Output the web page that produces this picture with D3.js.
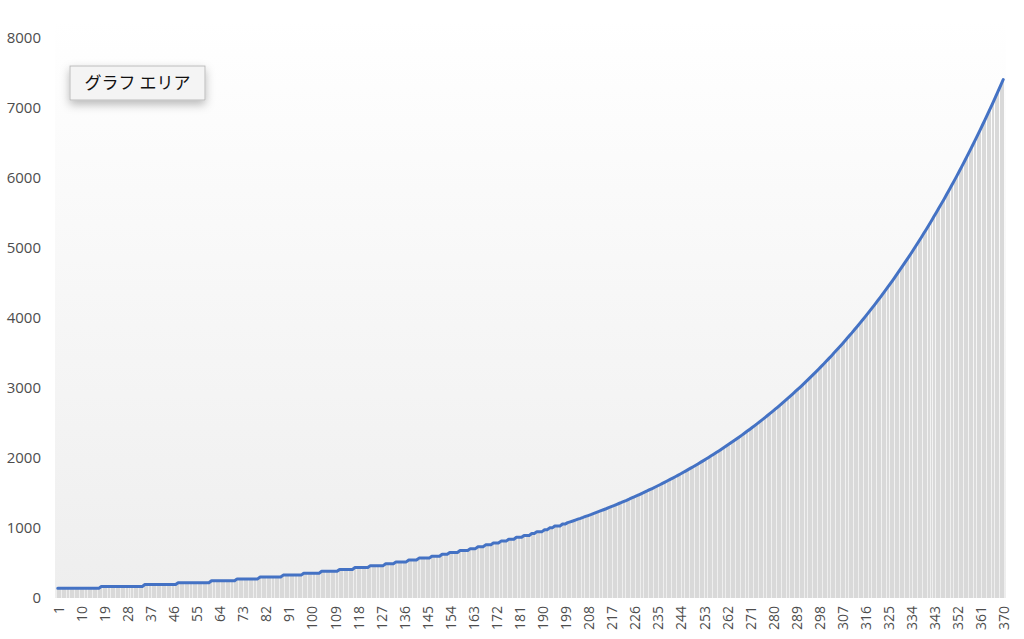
<!DOCTYPE html>
<html>
<head>
<meta charset="utf-8">
<script src="https://cdn.jsdelivr.net/npm/d3@7"></script>
<style>
  html, body { margin: 0; padding: 0; background: #ffffff; }
  svg { display: block; }
</style>
</head>
<body>
<svg id="chart" width="1024" height="639"></svg>
<script>
// ---- data ----
const values = [
  138,138,138,138,138,138,138,138,138,138,
  138,138,138,138,138,138,138,165,165,165,
  165,165,165,165,165,165,165,165,165,165,
  165,165,165,165,192,192,192,192,192,192,
  192,192,192,192,192,192,192,219,219,219,
  219,219,219,219,219,219,219,219,219,219,
  246,246,246,246,246,246,246,246,246,246,
  273,273,273,273,273,273,273,273,273,300,
  300,300,300,300,300,300,300,300,327,327,
  327,327,327,327,327,327,354,354,354,354,
  354,354,354,381,381,381,381,381,381,381,
  408,408,408,408,408,408,435,435,435,435,
  435,435,462,462,462,462,462,462,489,489,
  489,489,516,516,516,516,516,543,543,543,
  543,570,570,570,570,570,597,597,597,597,
  624,624,624,651,651,651,651,678,678,678,
  678,705,705,705,732,732,732,759,759,759,
  786,786,786,813,813,813,840,840,840,867,
  867,867,894,894,894,921,921,948,948,948,
  975,975,1002,1002,1029,1029,1029,1056,1056,1076,
  1088,1100,1113,1126,1138,1151,1165,1178,1191,1205,
  1219,1233,1247,1261,1275,1290,1305,1319,1335,1350,
  1365,1381,1396,1412,1429,1445,1461,1478,1495,1512,
  1529,1547,1564,1582,1600,1618,1637,1656,1675,1694,
  1713,1732,1752,1772,1793,1813,1834,1855,1876,1897,
  1919,1941,1963,1985,2008,2031,2054,2078,2101,2125,
  2149,2174,2199,2224,2249,2275,2301,2327,2354,2381,
  2408,2435,2463,2491,2520,2548,2577,2607,2637,2667,
  2697,2728,2759,2791,2823,2855,2887,2920,2954,2987,
  3021,3056,3091,3126,3162,3198,3234,3271,3309,3346,
  3385,3423,3462,3502,3542,3582,3623,3664,3706,3749,
  3791,3835,3878,3923,3967,4013,4059,4105,4152,4199,
  4247,4296,4345,4394,4444,4495,4546,4598,4651,4704,
  4758,4812,4867,4922,4979,5035,5093,5151,5210,5269,
  5329,5390,5452,5514,5577,5641,5705,5770,5836,5903,
  5970,6038,6107,6177,6247,6319,6391,6464,6537,6612,
  6688,6764,6841,6919,6998,7078,7159,7241,7323,7407
];
const categories = values.map((d, i) => i + 1);
const xTickLabels = [1,10,19,28,37,46,55,64,73,82,91,100,109,118,127,136,145,154,163,172,181,190,199,208,217,226,235,244,253,262,271,280,289,298,307,316,325,334,343,352,361,370];
const yTickLabels = [0,1000,2000,3000,4000,5000,6000,7000,8000];
const tooltipText = "グラフ エリア";

// ---- drawing ----
const svg = d3.select("#chart");
const defs = svg.append("defs");

const grad = defs.append("linearGradient")
  .attr("id", "bg").attr("x1", 0).attr("y1", 0).attr("x2", 0).attr("y2", 1);
grad.append("stop").attr("offset", "0%").attr("stop-color", "#ffffff");
grad.append("stop").attr("offset", "100%").attr("stop-color", "#eeeeee");

const shadow = defs.append("filter").attr("id", "shadow")
  .attr("x", "-30%").attr("y", "-60%").attr("width", "160%").attr("height", "260%");
shadow.append("feDropShadow").attr("dx", 0).attr("dy", 4).attr("stdDeviation", 5)
  .attr("flood-color", "#000").attr("flood-opacity", 0.28);

const x = d3.scaleBand().domain(categories).range([56.5, 1004.5])
  .paddingInner(0.22).paddingOuter(0.1);
const y = d3.scaleLinear().domain([0, 8000]).range([598, 38]);

// plot background
svg.append("rect")
  .attr("x", 55).attr("y", 20).attr("width", 951).attr("height", 578)
  .attr("fill", "url(#bg)");

// bars
svg.append("g").selectAll("rect").data(values).join("rect")
  .attr("x", (d, i) => x(categories[i]))
  .attr("y", d => y(d))
  .attr("width", x.bandwidth())
  .attr("height", d => y(0) - y(d))
  .attr("fill", "#d9d9d9")
  .attr("shape-rendering", "crispEdges");

// line
const line = d3.line()
  .x((d, i) => x(categories[i]) + x.bandwidth() / 2)
  .y(d => y(d));
svg.append("path").datum(values)
  .attr("d", line)
  .attr("fill", "none")
  .attr("stroke", "#4472c4")
  .attr("stroke-width", 3)
  .attr("stroke-linejoin", "round")
  .attr("stroke-linecap", "round");

// y axis labels
const yAxis = d3.axisLeft(y).tickValues(yTickLabels).tickSize(0).tickPadding(0)
  .tickFormat(d3.format("d"));
const gy = svg.append("g").attr("transform", "translate(41,0)").call(yAxis);
gy.select(".domain").remove();
gy.selectAll("text")
  .attr("fill", "#4d4d4d")
  .style("font-family", "'Open Sans', 'Liberation Sans', sans-serif")
  .style("font-size", "15px");

// x axis labels
const xAxis = d3.axisBottom(x).tickValues(xTickLabels).tickSize(0).tickPadding(0);
const gx = svg.append("g").attr("transform", "translate(0,598)").call(xAxis);
gx.select(".domain").remove();
gx.selectAll("text")
  .attr("fill", "#4d4d4d")
  .style("font-family", "'Open Sans', 'Liberation Sans', sans-serif")
  .style("font-size", "14px")
  .attr("text-anchor", "end")
  .attr("transform", "translate(1,8) rotate(-90)")
  .attr("x", 0).attr("y", 0).attr("dy", "0.36em");

// tooltip box
const tip = svg.append("g");
tip.append("rect")
  .attr("x", 70).attr("y", 66).attr("width", 135).attr("height", 34)
  .attr("fill", "#f4f4f4").attr("stroke", "#b0b0b0").attr("stroke-width", 0.8)
  .attr("filter", "url(#shadow)");
tip.append("text")
  .attr("x", 137.5).attr("y", 83).attr("dy", "0.36em")
  .attr("text-anchor", "middle")
  .attr("fill", "#111")
  .style("font-family", "'Noto Sans CJK JP', sans-serif")
  .style("font-size", "17px")
  .text(tooltipText);
</script>
</body>
</html>
